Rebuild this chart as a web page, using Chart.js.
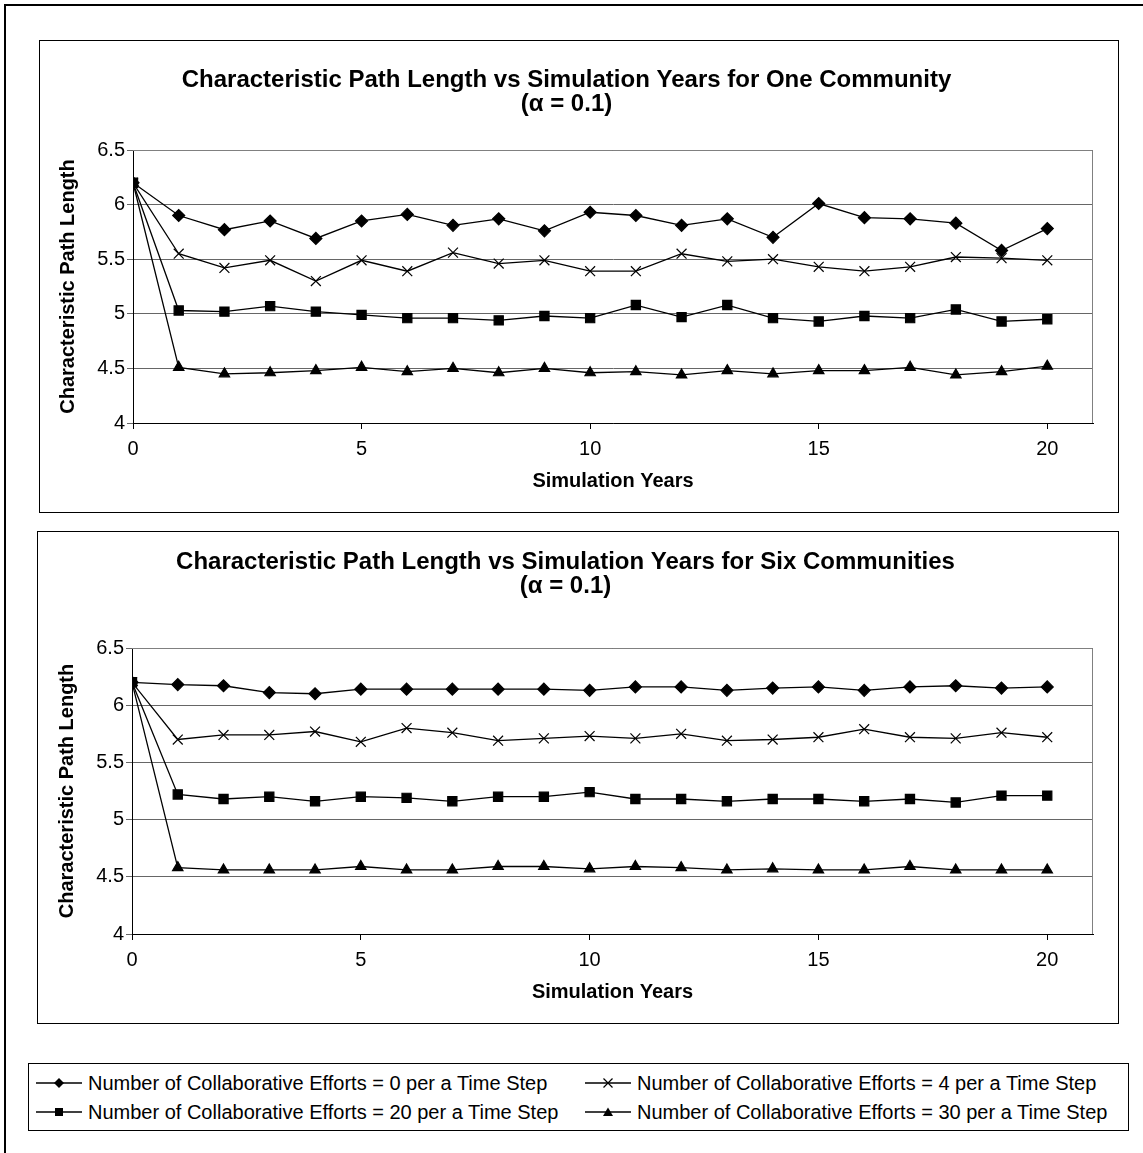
<!DOCTYPE html>
<html>
<head>
<meta charset="utf-8">
<script src="https://cdn.jsdelivr.net/npm/chart.js@4.4.1/dist/chart.umd.min.js"></script>
<style>
  body { margin: 0; background: #fff; font-family: "Liberation Sans", Arial, sans-serif; }
  #frame { position: absolute; left: 4px; top: 4px; width: 1300px; height: 1300px; border-left: 2px solid #000; border-top: 2px solid #000; }
  .box { position: absolute; border: 1px solid #000; background: #fff; }
  #box1 { left: 39px; top: 40px; width: 1078px; height: 471px; }
  #box2 { left: 37px; top: 531px; width: 1080px; height: 491px; }
  #legend { left: 28px; top: 1063px; width: 1099px; height: 66px; }
  .item { position: absolute; height: 24px; display: flex; align-items: center; font-size: 20px; color: #000; white-space: nowrap; }
  .item svg { margin-right: 6px; }
  canvas { display: block; }
</style>
</head>
<body>
<div id="frame"></div>
<div class="box" id="box1"><canvas id="chart1" width="1078" height="471"></canvas></div>
<div class="box" id="box2"><canvas id="chart2" width="1080" height="491"></canvas></div>
<div class="box" id="legend"></div>
<script>
// simulation years on the x axis
const years = [0, 1, 2, 3, 4, 5, 6, 7, 8, 9, 10, 11, 12, 13, 14, 15, 16, 17, 18, 19, 20];
const xTicks = [0, 5, 10, 15, 20];
const yTicks = [4, 4.5, 5, 5.5, 6, 6.5];

const legendLabels = [
  "Number of Collaborative Efforts = 0 per a Time Step",
  "Number of Collaborative Efforts = 4 per a Time Step",
  "Number of Collaborative Efforts = 20 per a Time Step",
  "Number of Collaborative Efforts = 30 per a Time Step"
];

// One community
const one0  = [6.2, 5.9, 5.77, 5.85, 5.69, 5.85, 5.91, 5.81, 5.87, 5.76, 5.93, 5.9, 5.81, 5.87, 5.7, 6.01, 5.88, 5.87, 5.83, 5.58, 5.78];
const one4  = [6.2, 5.55, 5.42, 5.49, 5.3, 5.49, 5.39, 5.56, 5.46, 5.49, 5.39, 5.39, 5.55, 5.48, 5.5, 5.43, 5.39, 5.43, 5.52, 5.51, 5.49];
const one20 = [6.2, 5.03, 5.02, 5.07, 5.02, 4.99, 4.96, 4.96, 4.94, 4.98, 4.96, 5.08, 4.97, 5.08, 4.96, 4.93, 4.98, 4.96, 5.04, 4.93, 4.95];
const one30 = [6.2, 4.51, 4.45, 4.46, 4.48, 4.51, 4.47, 4.5, 4.46, 4.5, 4.46, 4.47, 4.44, 4.48, 4.45, 4.48, 4.48, 4.51, 4.44, 4.47, 4.52];

// Six communities
const six0  = [6.2, 6.18, 6.17, 6.11, 6.1, 6.14, 6.14, 6.14, 6.14, 6.14, 6.13, 6.16, 6.16, 6.13, 6.15, 6.16, 6.13, 6.16, 6.17, 6.15, 6.16];
const six4  = [6.2, 5.7, 5.74, 5.74, 5.77, 5.68, 5.8, 5.76, 5.69, 5.71, 5.73, 5.71, 5.75, 5.69, 5.7, 5.72, 5.79, 5.72, 5.71, 5.76, 5.72];
const six20 = [6.2, 5.22, 5.18, 5.2, 5.16, 5.2, 5.19, 5.16, 5.2, 5.2, 5.24, 5.18, 5.18, 5.16, 5.18, 5.18, 5.16, 5.18, 5.15, 5.21, 5.21];
const six30 = [6.2, 4.58, 4.56, 4.56, 4.56, 4.59, 4.56, 4.56, 4.59, 4.59, 4.57, 4.59, 4.58, 4.56, 4.57, 4.56, 4.56, 4.59, 4.56, 4.56, 4.56];

const FONT = '"Liberation Sans", Arial, sans-serif';
const markerStyles = ["rectRot", "crossRot", "rect", "triangle"];
const markerRadius = [6, 7, 6.5, 6];

// gray frame on top and right of the plot area, like the excel chart
const plotFrame = {
  id: "plotFrame",
  beforeDatasetsDraw(chart) {
    const a = chart.chartArea;
    const ctx = chart.ctx;
    ctx.save();
    ctx.strokeStyle = "#808080";
    ctx.lineWidth = 1;
    ctx.beginPath();
    ctx.moveTo(a.left, a.top + 0.5);
    ctx.lineTo(a.right - 0.5, a.top + 0.5);
    ctx.lineTo(a.right - 0.5, a.bottom);
    ctx.stroke();
    ctx.restore();
  }
};

function buildChart(id, title, series, lay) {
  return new Chart(document.getElementById(id), {
    type: "line",
    data: {
      datasets: series.map((s, i) => ({
        label: legendLabels[i],
        data: years.map((x, j) => ({ x: x, y: s[j] })),
        borderColor: "#000",
        borderWidth: 1.3,
        backgroundColor: "#000",
        pointStyle: markerStyles[i],
        pointRadius: markerRadius[i],
        pointBorderColor: "#000",
        pointBackgroundColor: "#000",
        pointBorderWidth: 1.2,
        tension: 0
      }))
    },
    options: {
      responsive: false,
      animation: false,
      devicePixelRatio: 1,
      layout: { padding: { left: 0, right: lay.right, top: 0, bottom: 0 } },
      plugins: {
        legend: { display: false },
        tooltip: { enabled: false },
        title: {
          display: true,
          text: title,
          color: "#000",
          font: { family: FONT, size: 24, weight: "bold", lineHeight: 1.0 },
          padding: { top: lay.titleTop, bottom: lay.titleBottom }
        }
      },
      scales: {
        x: {
          type: "linear",
          min: 0,
          max: 21,
          afterBuildTicks: (s) => { s.ticks = xTicks.map((v) => ({ value: v })); },
          afterFit: (s) => { s.height = lay.xHeight; },
          grid: { drawOnChartArea: false, drawTicks: true, tickLength: 6, color: "#000" },
          border: { color: "#000", width: 1 },
          ticks: { color: "#000", font: { family: FONT, size: 20 }, padding: 8, maxRotation: 0 },
          title: {
            display: true,
            text: "Simulation Years",
            color: "#000",
            font: { family: FONT, size: 20, weight: "bold" },
            padding: { top: 0, bottom: lay.xTitleBottom }
          }
        },
        y: {
          min: 4,
          max: 6.5,
          afterBuildTicks: (s) => { s.ticks = yTicks.map((v) => ({ value: v })); },
          afterFit: (s) => { s.width = lay.yWidth; },
          grid: { color: "#666", tickLength: 6 },
          border: { color: "#000", width: 1 },
          ticks: { color: "#000", font: { family: FONT, size: 20 }, padding: 2, callback: (v) => String(v) },
          title: {
            display: true,
            text: "Characteristic Path Length",
            color: "#000",
            font: { family: FONT, size: 20, weight: "bold" },
            padding: { top: lay.yTitleTop, bottom: 0 }
          }
        }
      }
    },
    plugins: [plotFrame]
  });
}

buildChart("chart1",
  ["Characteristic Path Length vs Simulation Years for One Community", "(\u03b1 = 0.1)"],
  [one0, one4, one20, one30],
  { right: 25, titleTop: 27, titleBottom: 34, xHeight: 89, xTitleBottom: 19, yWidth: 93, yTitleTop: 16 });

buildChart("chart2",
  ["Characteristic Path Length vs Simulation Years for Six Communities", "(\u03b1 = 0.1)"],
  [six0, six4, six20, six30],
  { right: 25, titleTop: 18, titleBottom: 50, xHeight: 89, xTitleBottom: 19, yWidth: 94, yTitleTop: 17 });

// legend box below both charts
function markerSvg(style) {
  let m = "";
  if (style === "rectRot") m = '<polygon points="23,2 28,7 23,12 18,7" fill="#000"/>';
  if (style === "crossRot") m = '<path d="M18.5,2.5 L27.5,11.5 M27.5,2.5 L18.5,11.5" stroke="#000" stroke-width="1.2"/>';
  if (style === "rect") m = '<rect x="19" y="3" width="8" height="8" fill="#000"/>';
  if (style === "triangle") m = '<polygon points="23,2.5 28,11 18,11" fill="#000"/>';
  return '<svg width="46" height="14" viewBox="0 0 46 14"><line x1="0" y1="7" x2="46" y2="7" stroke="#000" stroke-width="1.3"/>' + m + "</svg>";
}

const legendBox = document.getElementById("legend");
const legendPos = [[7, 7], [556, 7], [7, 36], [556, 36]];
legendLabels.forEach((label, i) => {
  const el = document.createElement("div");
  el.className = "item";
  el.style.left = legendPos[i][0] + "px";
  el.style.top = legendPos[i][1] + "px";
  el.innerHTML = markerSvg(markerStyles[i]) + "<span>" + label + "</span>";
  legendBox.appendChild(el);
});
</script>
</body>
</html>
